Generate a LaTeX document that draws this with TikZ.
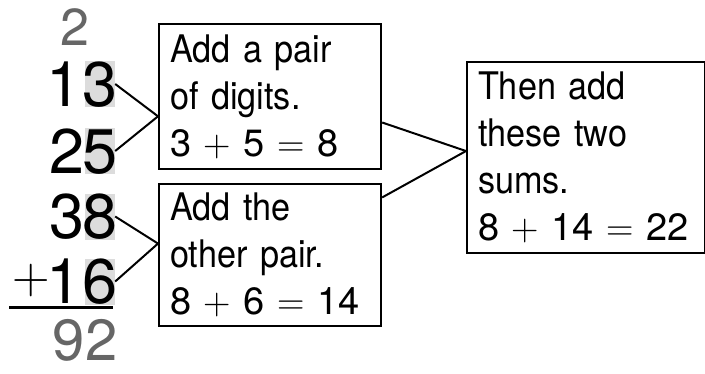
\documentclass[tikz,border=0pt]{standalone}
\usepackage{fontspec}
\setmainfont[FakeStretch=0.9]{TeX Gyre Heros}
\newfontfamily\numfont{TeX Gyre Heros}
\newcommand\lmsym{\fontfamily{lmr}\selectfont}
\usetikzlibrary{calc}
\definecolor{hlgray}{HTML}{DCDCDC}
\definecolor{tracegray}{HTML}{666666}
\newcommand\op[1]{\hspace{0.33em}{\lmsym #1}\hspace{0.33em}}
\tikzset{
  box/.style={draw, line width=2.2pt, align=left, inner xsep=11pt, inner ysep=0pt,
    font=\fontsize{38}{47}\selectfont, anchor=north west},
  big/.style={font=\numfont\fontsize{63}{63}\selectfont, inner sep=0pt},
  hlbox/.style={big, fill=hlgray, minimum height=46pt, text height=44pt, text depth=0pt},
  tracedigit/.style={text=tracegray, inner sep=0pt, text depth=0pt},
  link/.style={line width=2pt},
}
\begin{document}
\begin{tikzpicture}[x=1pt,y=-1pt]
\useasboundingbox (0,0) rectangle (705,373);

% left column digits
\node[hlbox] (d3) at (100,84) {\makebox[30pt]{3}};
\node[big, anchor=base east] (n1a) at ([xshift=-3pt]d3.base west) {1};
\node[hlbox] (d5) at (100,151) {\makebox[30pt]{5}};
\node[big, anchor=base east] (n2a) at (d5.base west) {2};
\node[hlbox] (d8) at (100,216.5) {\makebox[30pt]{8}};
\node[big, anchor=base east] (n3a) at (d8.base west) {3};
\node[hlbox] (d6) at (100,281.5) {\makebox[30pt]{6}};
\node[big, anchor=base east] (n1b) at ([xshift=-3pt]d6.base west) {1};
\node[inner sep=0pt, font=\lmsym\fontsize{52}{52}\selectfont] (plus) at (31,281) {+};
\draw[line width=3pt] (9,307) -- (113,307);

\node[tracedigit, font=\numfont\fontsize{52}{52}\selectfont, anchor=base] (carry) at (75,45) {2};
\node[tracedigit, font=\numfont\fontsize{58}{58}\selectfont, anchor=base] (answer) at (85,360) {92};

% boxes
\node[box, text width=200pt, minimum height=145pt] (b1) at (158,23)
  {Add a pair\\of digits.\\{\numfont 3\op{+}5\op{=}8}};
\node[box, text width=200pt, minimum height=142pt] (b2) at (158,183)
  {Add the\\other pair.\\{\numfont 8\op{+}6\op{=}14}};
\node[box, text width=216pt, minimum height=191pt] (b3) at (466,61)
  {Then add\\these two\\sums.\\{\numfont 8\op{+}14\op{=}22}};

% connectors
\coordinate (b1in) at ($(b1.north west)!0.634!(b1.south west)$);
\coordinate (b2in) at ($(b2.north west)!0.42!(b2.south west)$);
\coordinate (b1out) at ($(b1.north east)!0.676!(b1.south east)$);
\coordinate (b2out) at ($(b2.north east)!0.1!(b2.south east)$);
\coordinate (b3in) at ($(b3.north west)!0.466!(b3.south west)$);
\draw[link] (d3.east) -- (b1in);
\draw[link] (d5.east) -- (b1in);
\draw[link] (d8.east) -- (b2in);
\draw[link] (d6.east) -- (b2in);
\draw[link] (b1out) -- (b3in);
\draw[link] (b2out) -- (b3in);
\end{tikzpicture}
\end{document}
